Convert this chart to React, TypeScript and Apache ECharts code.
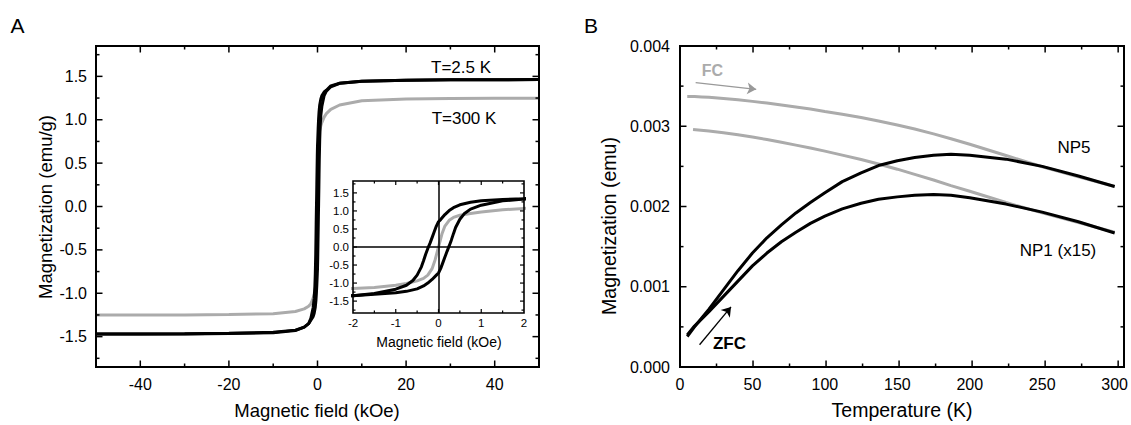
import React, { useEffect, useRef } from 'react';
import * as echarts from 'echarts';

const FONT = 'Liberation Sans, Arial, Helvetica, sans-serif';
const GRAY = '#ababab';

// ---------- Panel A: hysteresis loops ----------
const fieldDown = [50, 40, 30, 20, 10, 5, 3, 2, 1.5, 1, 0.75, 0.5, 0.35, 0.25, 0.15, 0.05, 0, -0.05, -0.1, -0.15, -0.2, -0.25, -0.3, -0.35, -0.4, -0.5, -0.6, -0.75, -1, -1.5, -2, -3, -5, -10, -20, -30, -40, -50];
const m25Down = [1.463, 1.462, 1.46, 1.455, 1.445, 1.42, 1.39, 1.34, 1.32, 1.28, 1.24, 1.17, 1.09, 1.01, 0.9, 0.76, 0.7, 0.58, 0.42, 0.26, 0.1, -0.04, -0.2, -0.38, -0.55, -0.78, -0.93, -1.06, -1.17, -1.29, -1.35, -1.39, -1.43, -1.455, -1.465, -1.47, -1.47, -1.47];
const fieldUp = [-50, -40, -30, -20, -10, -5, -3, -2, -1.5, -1, -0.75, -0.5, -0.35, -0.25, -0.15, -0.05, 0, 0.05, 0.1, 0.15, 0.2, 0.25, 0.3, 0.35, 0.4, 0.5, 0.6, 0.75, 1, 1.5, 2, 3, 5, 10, 20, 30, 40, 50];
const m25Up = [-1.47, -1.47, -1.468, -1.462, -1.45, -1.425, -1.39, -1.35, -1.31, -1.27, -1.23, -1.16, -1.08, -1.0, -0.9, -0.78, -0.72, -0.6, -0.44, -0.28, -0.12, 0.03, 0.19, 0.37, 0.54, 0.77, 0.92, 1.05, 1.16, 1.28, 1.33, 1.38, 1.42, 1.445, 1.455, 1.46, 1.462, 1.463];
const field300 = [-50, -40, -30, -20, -10, -5, -3, -2, -1.5, -1, -0.75, -0.5, -0.35, -0.25, -0.15, -0.08, 0, 0.08, 0.15, 0.25, 0.35, 0.5, 0.75, 1, 1.5, 2, 3, 5, 10, 20, 30, 40, 50];
const m300 = [-1.25, -1.25, -1.25, -1.245, -1.235, -1.21, -1.18, -1.15, -1.12, -1.06, -1.01, -0.94, -0.87, -0.78, -0.6, -0.36, 0, 0.36, 0.58, 0.74, 0.82, 0.88, 0.93, 0.97, 1.03, 1.07, 1.12, 1.17, 1.22, 1.24, 1.245, 1.248, 1.248];

const aXMajor = [-40, -20, 0, 20, 40];
const aXMinor = [-30, -10, 10, 30];
const aYMajor = [-1.5, -1, -0.5, 0, 0.5, 1, 1.5];
const aYMinor = [-1.75, -1.25, -0.75, -0.25, 0.25, 0.75, 1.25, 1.75];
const insetXMajor = [-2, -1, 0, 1, 2];
const insetXMinor = [-1.5, -0.5, 0.5, 1.5];

// ---------- Panel B: ZFC / FC ----------
const temps = [5, 10, 15, 20, 30, 40, 50, 60, 70, 80, 90, 100, 112, 125, 137, 150, 162, 175, 187, 200, 225, 250, 275, 300];
const np5Zfc = [0.00038, 0.0005, 0.00061, 0.00072, 0.00096, 0.0012, 0.00142, 0.00161, 0.00177, 0.00192, 0.00205, 0.00217, 0.00231, 0.00242, 0.00251, 0.00257, 0.00261, 0.00264, 0.00265, 0.00264, 0.00259, 0.0025, 0.00238, 0.00225];
const np1Zfc = [0.0004, 0.00051, 0.0006, 0.00069, 0.00088, 0.00107, 0.00126, 0.00142, 0.00156, 0.00168, 0.00179, 0.00188, 0.00197, 0.00204, 0.00209, 0.00212, 0.00214, 0.00215, 0.00214, 0.00211, 0.00203, 0.00193, 0.00181, 0.00167];
const np5Fc = [0.00337, 0.00337, 0.003365, 0.00336, 0.003345, 0.00333, 0.00331, 0.00329, 0.003265, 0.00324, 0.003215, 0.003185, 0.00315, 0.00311, 0.003065, 0.003015, 0.002965, 0.002905, 0.002845, 0.002775, 0.002635, 0.002495, 0.00237, 0.00225];
const tempsFc1 = [9, 20, 30, 40, 50, 60, 70, 80, 90, 100, 112, 125, 137, 150, 162, 175, 187, 200, 225, 250, 275, 300];
const np1Fc = [0.00296, 0.00294, 0.00292, 0.002895, 0.002865, 0.002835, 0.0028, 0.002765, 0.00273, 0.00269, 0.00264, 0.002585, 0.00253, 0.002465, 0.0024, 0.00233, 0.00226, 0.00219, 0.00205, 0.00192, 0.0018, 0.00168];

const bXMajor = [0, 50, 100, 150, 200, 250, 300];
const bXMinor = [25, 75, 125, 175, 225, 275];
const bYMajor = [0, 0.001, 0.002, 0.003, 0.004];
const bYMinor = [0.0005, 0.0015, 0.0025, 0.0035];

const fcArrow = [[10.8, 0.003543], [52.6, 0.00346]];
const zfcArrow = [[13.5, 0.000277], [35.2, 0.000749]];

const pairs = (xs: number[], ys: number[]) => xs.map((x, i) => [x, ys[i]]);

const GRID_A = { left: 96, top: 46, width: 443, height: 321 };
const GRID_IN = { left: 353, top: 181, width: 171, height: 132 };
const GRID_B = { left: 680, top: 46, width: 444, height: 321 };

const f1 = (v: number) => v.toFixed(1);
const f0 = (v: number) => String(v);
const f3 = (v: number) => v.toFixed(3);

type Box = {
  ax: number; r: { left: number; top: number; width: number; height: number };
  xMin: number; xMax: number; yMin: number; yMax: number;
  xMa: number[]; xMi: number[]; yMa: number[]; yMi: number[];
  ma: number; mi: number; tw: number; fw: number;
};

const boxes: Box[] = [
  { ax: 0, r: GRID_A, xMin: -50, xMax: 50, yMin: -1.85, yMax: 1.85, xMa: aXMajor, xMi: aXMinor, yMa: aYMajor, yMi: aYMinor, ma: 6.5, mi: 3.5, tw: 1.5, fw: 2 },
  { ax: 1, r: GRID_IN, xMin: -2, xMax: 2, yMin: -1.83, yMax: 1.83, xMa: insetXMajor, xMi: insetXMinor, yMa: aYMajor, yMi: aYMinor, ma: 4, mi: 2.5, tw: 1.2, fw: 1.6 },
  { ax: 2, r: GRID_B, xMin: 0, xMax: 304, yMin: 0, yMax: 0.004, xMa: bXMajor, xMi: bXMinor, yMa: bYMajor, yMi: bYMinor, ma: 6.5, mi: 3.5, tw: 1.5, fw: 2 },
];

function axisPair(b: Box, xFmt: (v: number) => string, yFmt: (v: number) => string, fs: number, xMargin: number, yMargin: number) {
  const lab = (vals: number[], fmt: (v: number) => string, margin: number) => ({
    show: true, customValues: vals, formatter: fmt, fontSize: fs, color: '#000', margin, fontFamily: FONT,
  });
  return {
    x: {
      type: 'value', gridIndex: b.ax, min: b.xMin, max: b.xMax, position: 'bottom',
      axisLine: { show: false, onZero: false }, axisTick: { show: false }, splitLine: { show: false },
      axisLabel: lab(b.xMa, xFmt, xMargin),
    },
    y: {
      type: 'value', gridIndex: b.ax, min: b.yMin, max: b.yMax, position: 'left',
      axisLine: { show: false, onZero: false }, axisTick: { show: false }, splitLine: { show: false },
      axisLabel: lab(b.yMa, yFmt, yMargin),
    },
  };
}

// frame (plain rect) and inward ticks on all four sides as graphic elements
function frameGraphics(b: Box) {
  const { left, top, width, height } = b.r;
  const right = left + width, bottom = top + height;
  const px = (v: number) => left + ((v - b.xMin) / (b.xMax - b.xMin)) * width;
  const py = (v: number) => bottom - ((v - b.yMin) / (b.yMax - b.yMin)) * height;
  const out: any[] = [
    { type: 'rect', z: 30, shape: { x: left, y: top, width, height }, style: { fill: 'none', stroke: '#000', lineWidth: b.fw } },
  ];
  const seg = (x1: number, y1: number, x2: number, y2: number) => ({
    type: 'line', z: 30, shape: { x1, y1, x2, y2 }, style: { stroke: '#000', lineWidth: b.tw },
  });
  const addX = (vals: number[], len: number) => vals.forEach((v) => {
    const p = px(v);
    if (p <= left + 1 || p >= right - 1) return;
    out.push(seg(p, bottom, p, bottom - len), seg(p, top, p, top + len));
  });
  const addY = (vals: number[], len: number) => vals.forEach((v) => {
    const p = py(v);
    if (p <= top + 1 || p >= bottom - 1) return;
    out.push(seg(left, p, left + len, p), seg(right, p, right - len, p));
  });
  addX(b.xMa, b.ma); addX(b.xMi, b.mi); addY(b.yMa, b.ma); addY(b.yMi, b.mi);
  return out;
}

function buildOption() {
  const pa = axisPair(boxes[0], f0, f1, 16, 9, 9);
  const pi = axisPair(boxes[1], f0, f1, 11.5, 4, 4);
  const pb = axisPair(boxes[2], f0, f3, 16, 9, 10);

  const lineS = (name: string, data: number[][], color: string, width: number, ax: number, extra: any = {}) => ({
    type: 'line', name, data, xAxisIndex: ax, yAxisIndex: ax, showSymbol: false, symbol: 'none',
    lineStyle: { color, width }, itemStyle: { color }, ...extra,
  });

  const series: any[] = [
    lineS('300 K', pairs(field300, m300), GRAY, 3, 0),
    lineS('2.5 K down', pairs(fieldDown, m25Down), '#000', 3, 0),
    lineS('2.5 K up', pairs(fieldUp, m25Up), '#000', 3, 0),
    lineS('300 K inset', pairs(field300, m300), GRAY, 3, 1, {
      markLine: {
        silent: true, symbol: ['none', 'none'], label: { show: false },
        lineStyle: { color: '#000', width: 1.5, type: 'solid' },
        data: [{ xAxis: 0 }, { yAxis: 0 }],
      },
    }),
    lineS('2.5 K down inset', pairs(fieldDown, m25Down), '#000', 3, 1),
    lineS('2.5 K up inset', pairs(fieldUp, m25Up), '#000', 3, 1),
    lineS('NP5 FC', pairs(temps, np5Fc), GRAY, 3, 2, {
      markLine: {
        silent: true, symbol: ['none', 'arrow'], symbolSize: 9, label: { show: false },
        lineStyle: { color: '#999', width: 1.3, type: 'solid' },
        data: [[{ coord: fcArrow[0] }, { coord: fcArrow[1] }]],
      },
    }),
    lineS('NP1 FC', pairs(tempsFc1, np1Fc), GRAY, 3, 2),
    lineS('NP5 ZFC', pairs(temps, np5Zfc), '#000', 3, 2, {
      markLine: {
        silent: true, symbol: ['none', 'arrow'], symbolSize: 9, label: { show: false },
        lineStyle: { color: '#000', width: 1.3, type: 'solid' },
        data: [[{ coord: zfcArrow[0] }, { coord: zfcArrow[1] }]],
      },
    }),
    lineS('NP1 ZFC', pairs(temps, np1Zfc), '#000', 3, 2),
  ];

  const txt = (text: string, x: number, y: number, size: number, extra: any = {}) => ({
    type: 'text', x, y, z: 20,
    style: { text, fontSize: size, fontFamily: FONT, fill: '#000', align: 'center', verticalAlign: 'middle', ...extra },
  });
  const rot = (text: string, x: number, y: number, size: number) => ({
    type: 'text', x, y, rotation: Math.PI / 2, z: 20,
    style: { text, fontSize: size, fontFamily: FONT, fill: '#000', align: 'center', verticalAlign: 'middle' },
  });
  const graphic = [
    ...frameGraphics(boxes[0]),
    ...frameGraphics(boxes[1]),
    ...frameGraphics(boxes[2]),
    txt('A', 17.5, 25, 21),
    txt('B', 591, 25, 21),
    txt('T=2.5 K', 461, 67, 17),
    txt('T=300 K', 464, 118, 17),
    txt('FC', 712.5, 70, 16, { fontWeight: 'bold', fill: GRAY }),
    txt('NP5', 1074, 147, 17),
    txt('NP1 (x15)', 1058, 250, 17),
    txt('ZFC', 729.5, 343, 17, { fontWeight: 'bold' }),
    txt('Magnetic field (kOe)', 317, 410, 18.5),
    txt('Magnetic field (kOe)', 439, 342, 14),
    txt('Temperature (K)', 902, 410, 19.5),
    rot('Magnetization (emu/g)', 45, 207, 18.5),
    rot('Magnetization (emu)', 609, 226, 19.5),
  ];

  return {
    animation: false,
    grid: [{ ...GRID_A }, { ...GRID_IN }, { ...GRID_B }],
    xAxis: [pa.x, pi.x, pb.x],
    yAxis: [pa.y, pi.y, pb.y],
    series,
    graphic,
  };
}

export default function App() {
  const ref = useRef<HTMLDivElement>(null);
  useEffect(() => {
    document.body.style.margin = '0';
    if (!ref.current) return;
    const chart = echarts.init(ref.current, undefined, { renderer: 'svg' });
    chart.setOption(buildOption() as any);
    return () => chart.dispose();
  }, []);
  return <div ref={ref} style={{ width: 1131, height: 425 }} />;
}
